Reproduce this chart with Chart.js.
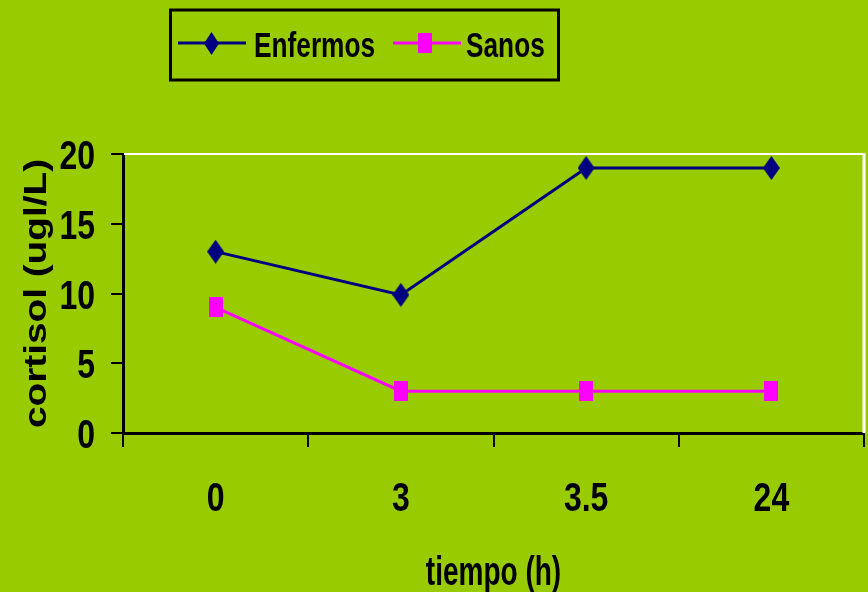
<!DOCTYPE html>
<html>
<head>
<meta charset="utf-8">
<script src="https://cdn.jsdelivr.net/npm/chart.js@4.4.1/dist/chart.umd.min.js"></script>
<style>
  html, body { margin: 0; padding: 0; background: #99CC00; }
  #wrap { width: 868px; height: 592px; }
</style>
</head>
<body>
<div id="wrap"><canvas id="c" width="868" height="592"></canvas></div>
<script>
// Cortisol levels over time, sick vs healthy
const tiempos = ['0', '3', '3.5', '24'];
const enfermos = [13, 9.9, 19, 19];
const sanos = [9, 3, 3, 3];
const yTicks = [0, 5, 10, 15, 20];
const xTitle = 'tiempo (h)';
const yTitle = 'cortisol (ugl/L)';

const SANS = "'Liberation Sans', Arial, sans-serif";
const NAVY = '#000080';
const MAGENTA = '#FF00FF';

// Condensed bold text: drawn with a horizontal squeeze (or stretch along the text when rotated)
function squeezedText(ctx, text, x, y, size, sx, align, rotate) {
  ctx.save();
  ctx.translate(x, y);
  if (rotate) ctx.rotate(-Math.PI / 2);
  ctx.scale(sx, 1);
  ctx.font = 'bold ' + size + 'px ' + SANS;
  ctx.fillStyle = '#000';
  ctx.textAlign = align;
  ctx.textBaseline = 'alphabetic';
  ctx.fillText(text, 0, 0);
  ctx.restore();
}

// Tall diamond / tall square markers drawn into small canvases
function diamond(w, h, color) {
  const c = document.createElement('canvas');
  c.width = w; c.height = h;
  const g = c.getContext('2d');
  g.fillStyle = color;
  g.beginPath();
  g.moveTo(w / 2, 0); g.lineTo(w, h / 2); g.lineTo(w / 2, h); g.lineTo(0, h / 2);
  g.closePath(); g.fill();
  return c;
}
function block(w, h, color) {
  const c = document.createElement('canvas');
  c.width = w; c.height = h;
  const g = c.getContext('2d');
  g.fillStyle = color;
  g.fillRect(0, 0, w, h);
  return c;
}

const series = [
  { label: 'Enfermos', data: enfermos, color: NAVY, marker: diamond(17, 24, NAVY), legendMarker: diamond(15, 23, NAVY) },
  { label: 'Sanos', data: sanos, color: MAGENTA, marker: block(14, 20, MAGENTA), legendMarker: block(14, 20, MAGENTA) }
];

// White top and right edges of the plot area
const plotFrame = {
  id: 'plotFrame',
  beforeDatasetsDraw(chart) {
    const { ctx, chartArea: a } = chart;
    ctx.save();
    ctx.strokeStyle = '#FFFFFF';
    ctx.lineWidth = 2;
    ctx.beginPath();
    ctx.moveTo(a.left + 1, a.top);
    ctx.lineTo(a.right, a.top);
    ctx.stroke();
    ctx.lineWidth = 3;
    ctx.beginPath();
    ctx.moveTo(a.right, a.top - 1);
    ctx.lineTo(a.right, a.bottom);
    ctx.stroke();
    ctx.restore();
  }
};

// Tick labels and axis titles, positioned from the chart's scales
const axisText = {
  id: 'axisText',
  afterDraw(chart) {
    const ctx = chart.ctx;
    const xs = chart.scales.x, ys = chart.scales.y;
    chart.data.labels.forEach((lab, i) => {
      squeezedText(ctx, lab, xs.getPixelForTick(i), 511, 40, 0.8, 'center', false);
    });
    ys.ticks.forEach(t => {
      squeezedText(ctx, String(t.value), 95, ys.getPixelForValue(t.value) + 15, 40, 0.8, 'right', false);
    });
    squeezedText(ctx, xTitle, (xs.left + xs.right) / 2, 585, 40, 0.7, 'center', false);
    squeezedText(ctx, yTitle, 46, (ys.top + ys.bottom) / 2, 31, 1.25, 'center', true);
  }
};

// Boxed legend above the plot
const boxedLegend = {
  id: 'boxedLegend',
  afterDraw(chart) {
    const ctx = chart.ctx;
    ctx.save();
    ctx.strokeStyle = '#000';
    ctx.lineWidth = 3;
    ctx.strokeRect(170.5, 10, 388, 70);
    const items = [
      { x0: 178, x1: 246, mx: 211, tx: 254 },
      { x0: 393, x1: 461, mx: 425, tx: 466 }
    ];
    const ly = 43;
    items.forEach((it, i) => {
      const ds = chart.data.datasets[i];
      const s = series[i];
      ctx.strokeStyle = ds.borderColor;
      ctx.lineWidth = 3;
      ctx.beginPath();
      ctx.moveTo(it.x0, ly);
      ctx.lineTo(it.x1, ly);
      ctx.stroke();
      const m = s.legendMarker;
      ctx.drawImage(m, Math.round(it.mx - m.width / 2), Math.round(ly - m.height / 2));
      squeezedText(ctx, ds.label, it.tx, 57, 35, 0.75, 'left', false);
    });
    ctx.restore();
  }
};

new Chart(document.getElementById('c'), {
  type: 'line',
  data: {
    labels: tiempos,
    datasets: series.map(s => ({
      label: s.label,
      data: s.data,
      borderColor: s.color,
      backgroundColor: s.color,
      borderWidth: 3,
      pointStyle: s.marker,
      pointRadius: 10,
      tension: 0,
      fill: false
    }))
  },
  options: {
    responsive: false,
    animation: false,
    devicePixelRatio: 1,
    layout: { autoPadding: false, padding: { top: 154, right: 4, left: 111, bottom: 145 } },
    plugins: {
      legend: { display: false },
      tooltip: { enabled: false }
    },
    scales: {
      x: {
        type: 'category',
        offset: true,
        grid: { offset: true, drawOnChartArea: false, color: '#000', lineWidth: 2, tickLength: 14 },
        border: { color: '#000', width: 3 },
        ticks: { display: false }
      },
      y: {
        min: 0,
        max: 20,
        afterBuildTicks(axis) { axis.ticks = yTicks.map(v => ({ value: v })); },
        grid: { drawOnChartArea: false, color: '#000', lineWidth: 2, tickLength: 12 },
        border: { color: '#000', width: 3 },
        ticks: { display: false }
      }
    }
  },
  plugins: [plotFrame, axisText, boxedLegend]
});
</script>
</body>
</html>
